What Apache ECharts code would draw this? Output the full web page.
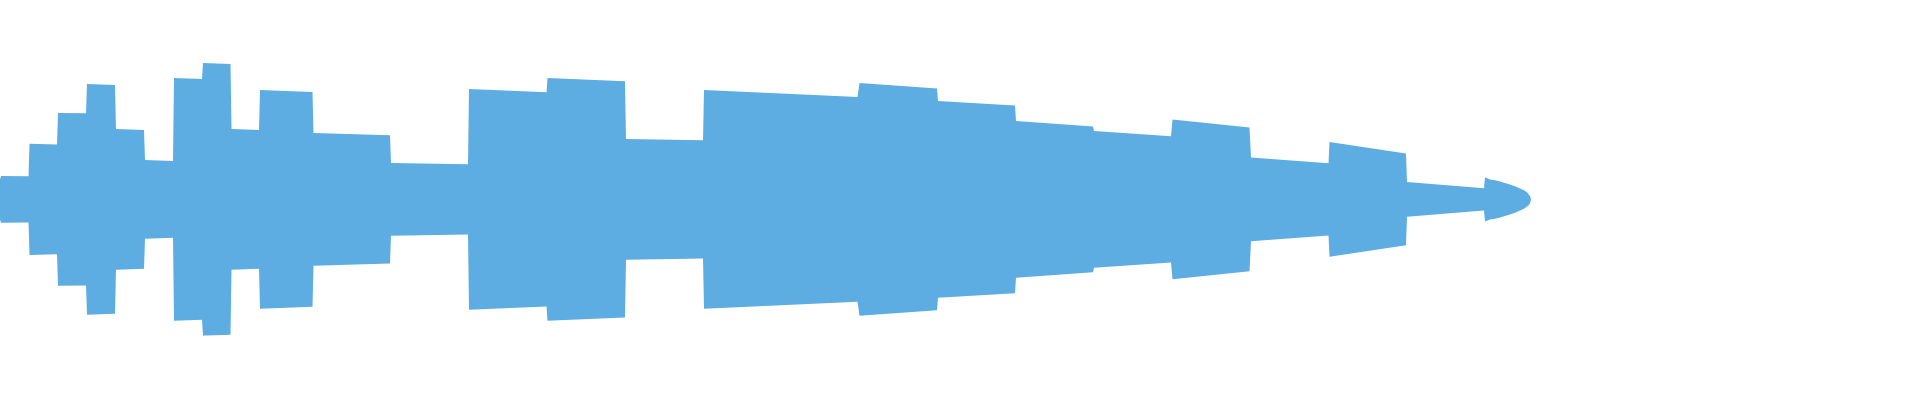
<!DOCTYPE html>
<html>
<head>
<meta charset="utf-8">
<style>
html,body{margin:0;padding:0;background:#ffffff;}
#chart{width:1920px;height:400px;}
</style>
<script src="https://cdn.jsdelivr.net/npm/echarts@6/dist/echarts.min.js"></script>
</head>
<body>
<div id="chart"></div>
<script>
// Positions along the stream (days from the start)
const positions = [
  0, 1, 28.5, 29.5, 57, 58, 86, 87, 115, 116, 144, 145, 173, 174, 202, 203,
  230.5, 231.5, 259, 260, 312.5, 313.5, 390, 391, 468, 469, 546.5, 547.5,
  625, 626, 703, 704, 781, 857.5, 859.5, 937, 938, 1015, 1016, 1093, 1094,
  1171, 1172.5, 1249.5, 1251, 1328.5, 1329.5, 1406, 1407, 1484, 1485,
  1490, 1495, 1500, 1505, 1510, 1515, 1520, 1524, 1527, 1529, 1530.3, 1531
];
// Stream thickness at each position
const thickness = [
  40, 46.8, 46.2, 111.2, 109.8, 172.8, 172.4, 230.8, 228.8, 140.8, 138.8,
  78.8, 76.8, 242.8, 240.8, 272.8, 270.8, 140.8, 138.8, 218.8, 214.8, 132.8,
  128.2, 72.8, 70.4, 220.8, 214.2, 242.8, 236.2, 120.8, 118.4, 218.8, 211.8,
  204.8, 232.8, 221.8, 196.8, 187.8, 156.8, 145.8, 136.8, 126.2, 159.8,
  143.8, 83.8, 72.2, 114.8, 91.8, 34.8, 22.2, 44.4,
  40, 38.5, 36, 33, 30, 26.5, 22, 18.5, 14.5, 11, 6, 0
];
const axisDays = 1920;
const startDate = Date.UTC(2015, 0, 1);
const DAY = 86400000;
const streamColor = '#5dade2';

const maxThickness = Math.max.apply(null, thickness);
const toTime = (d) => startDate + d * DAY;
// centre the stream: baseline offset like a theme river
const baseData = positions.map((t, i) => [toTime(t), (maxThickness - thickness[i]) / 2]);
const streamData = positions.map((t, i) => [toTime(t), thickness[i]]);

const chart = echarts.init(document.getElementById('chart'));
chart.setOption({
  animation: false,
  backgroundColor: '#ffffff',
  grid: { left: 0, right: 0, top: 63, bottom: 64.2 },
  xAxis: { type: 'time', min: toTime(0), max: toTime(axisDays), show: false },
  yAxis: { type: 'value', min: 0, max: maxThickness, show: false },
  series: [
    {
      name: 'base', type: 'line', stack: 'stream', data: baseData,
      symbol: 'none', silent: true,
      lineStyle: { width: 0, opacity: 0 }
    },
    {
      name: 'stream', type: 'line', stack: 'stream', data: streamData,
      symbol: 'none', silent: true,
      lineStyle: { width: 0, opacity: 0 },
      areaStyle: { color: streamColor, opacity: 1 }
    }
  ]
});
</script>
</body>
</html>
